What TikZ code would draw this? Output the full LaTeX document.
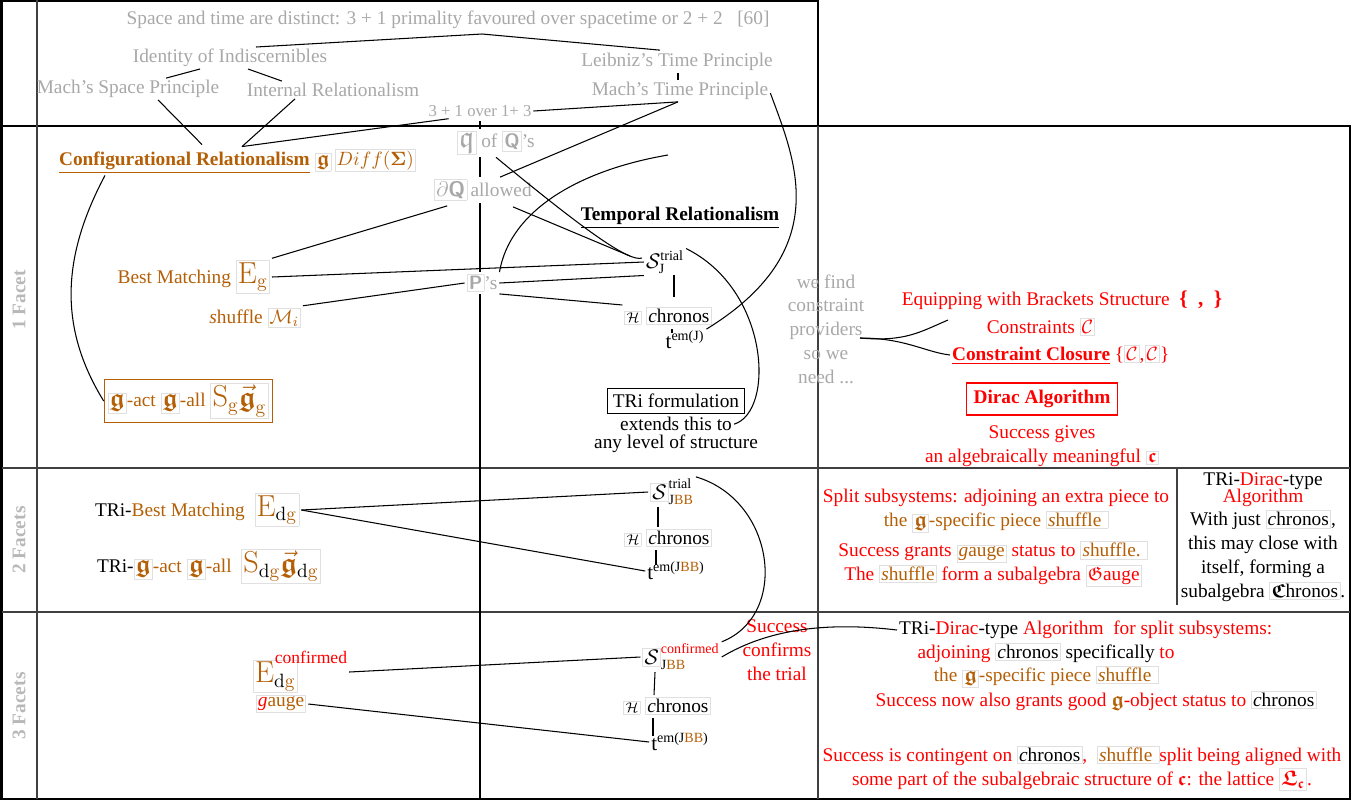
\documentclass[tikz,border=0pt]{standalone}
\usepackage{amsmath}
\usepackage{amssymb}
\usepackage[no-math]{fontspec}
\setmainfont{Liberation Serif}
\usepackage{tikz}
\usetikzlibrary{positioning,calc}
\definecolor{brn}{RGB}{180,95,6}
\definecolor{txtgray}{RGB}{168,168,168}
\newcommand{\gbox}[1]{{\setlength{\fboxsep}{0.8pt}\setlength{\fboxrule}{0.4pt}\fcolorbox{black!12}{white}{#1}}}
\newcommand{\scl}[1]{{\itshape #1}}
\newcommand{\fg}{$\boldsymbol{\mathfrak{g}}$}
\newcommand{\bigE}{\fontsize{16}{18}\selectfont}

\begin{document}
\begin{tikzpicture}[x=0.02cm, y=-0.02cm, font=\fontsize{11}{13.5}\selectfont,
  every node/.style={inner sep=1pt},
  gr/.style={text=txtgray},
  br/.style={text=brn},
  rd/.style={text=red},
  facet/.style={rotate=90, text=black!28, font=\fontsize{11}{13}\selectfont\bfseries},
  frame/.style={line width=0.8pt, black!75},
  outer/.style={line width=1.2pt},
  link/.style={line width=0.6pt}]
  \useasboundingbox (0,0) rectangle (1371,802);
  % table lines
  \draw[outer] (0,1) -- (818,1) -- (818,126);
  \draw[outer] (1.5,0) -- (1.5,799) -- (1350,799) -- (1350,126) -- (1.5,126);
  \draw[frame] (37,0) -- (37,799);
  \draw[frame] (1.5,468) -- (1350,468);
  \draw[frame] (1.5,612) -- (1350,612);
  \draw[frame] (818,126) -- (818,799);
  \draw[frame] (1177,468) -- (1177,605);
  \coordinate (axistop) at (480,121);
  \coordinate (axisend) at (480,799);
  \draw[link] (axistop) -- (axisend);

  \node[facet] (f1) at (19,300) {1 Facet};
  \node[facet] (f2) at (19,540) {2 Facets};
  \node[facet] (f3) at (19,706) {3 Facets};

  % top: principles
  \node[gr] (distinct) at (448,20) {Space and time are distinct: 3 + 1 primality favoured over spacetime or 2 + 2 \ \ [60]};
  \node[gr] (identity) at (230,58) {Identity of Indiscernibles};
  \node[gr] (leibniz) at (677,62) {Leibniz's Time Principle};
  \node[gr] (machs) at (128,89) {Mach's Space Principle};
  \node[gr] (internal) at (333,90) {Internal Relationalism};
  \node[gr] (macht) at (680,91) {Mach's Time Principle};
  \node[gr,font=\fontsize{9.5}{11}\selectfont] (threeone) at (480,111) {3 + 1 over 1+ 3};

  % 1 facet
  \node[br,anchor=west] (config) at (57,161) {\textbf{\underline{Configurational Relationalism}} \gbox{\large\fg}\,\gbox{$Diff(\boldsymbol{\Sigma})$}};
  \node[gr,fill=white] (qofq) at (496,143) {\gbox{\LARGE$\mathfrak{q}$} of \gbox{\textsf{\textbf{Q}}}'s};
  \node[gr,fill=white] (dq) at (483,190) {\gbox{\large$\partial$\textsf{\textbf{Q}}}\,allowed};
  \node[gr,fill=white] (ps) at (482,283) {\gbox{\textsf{\textbf{P}}}'s};
  \node (temprel) at (680,218) {\textbf{\underline{Temporal Relationalism}}};
  \node (sj) at (665,262) {\large$\mathcal{S}_{\text{J}}^{\text{trial}}$};
  \node (chr1) at (668,316) {\gbox{$\scriptstyle\mathcal{H}$}\ \gbox{\scl{c}hronos}};
  \node (tem1) at (685,340) {\large t$^{\text{em(J)}}$};
  \node[br,anchor=east] (bm) at (272,277) {Best Matching \gbox{\bigE$\mathrm{E}_{\mathrm{g}}$}};
  \node[br,anchor=east] (shuf) at (303,318) {\scl{s}huffle\ \gbox{$\mathcal{M}_i$}};
  \node[draw=brn,br,inner sep=2pt] (gact) at (188,401) {\gbox{\Large\fg}-act \gbox{\Large\fg}-all \gbox{\bigE$\mathrm{S}_{\mathrm{g}}\vec{\boldsymbol{\mathfrak{g}}}_{\mathrm{g}}$}};
  \node[draw,inner sep=3pt] (tri) at (676,401) {TRi formulation};
  \node[below=1pt of tri] (ext) {extends this to};
  \node[below=0pt of ext] (anylev) {any level of structure};

  \node[gr,align=center] (wefind) at (826,329) {we find\\constraint\\providers\\so we\\need ...};
  \node[rd] (equip) at (1062,300) {Equipping with Brackets Structure\ \ \textbf{\large\{ \ , \ \}}};
  \node[rd] (constr) at (1041,327) {Constraints \gbox{$\mathcal{C}$}};
  \node[rd,anchor=west] (closure) at (950,355) {\textbf{\underline{Constraint Closure}} \{\gbox{$\mathcal{C}$},\gbox{$\mathcal{C}$}\}};
  \node[rd,draw=red,line width=0.8pt,inner sep=4pt] (dirac) at (1042,399) {\textbf{Dirac Algorithm}};
  \node[rd,align=center] (gives) at (1042,446) {Success gives\\an algebraically meaningful \gbox{$\boldsymbol{\mathfrak{c}}$}};

  % 2 facets
  \node[anchor=west] (tribm) at (93,510) {TRi-\textcolor{brn}{Best Matching}\ \ \gbox{\bigE$\textcolor{brn}{\mathrm{E}}_{\mathrm{d}\textcolor{brn}{\mathrm{g}}}$}};
  \node[anchor=west] (trigact) at (95,566) {TRi-\gbox{\textcolor{brn}{\Large\fg}}\textcolor{brn}{-act} \gbox{\textcolor{brn}{\Large\fg}}\textcolor{brn}{-all}\ \ \gbox{\bigE$\textcolor{brn}{\mathrm{S}}_{\mathrm{d}\textcolor{brn}{\mathrm{g}}}\textcolor{brn}{\vec{\boldsymbol{\mathfrak{g}}}}_{\mathrm{d}\textcolor{brn}{\mathrm{g}}}$}};
  \node (sjbb) at (672,492) {\large$\gbox{$\mathcal{S}$}^{\text{trial}}_{\text{J\textcolor{brn}{BB}}}$};
  \node (chr2) at (668,538) {\gbox{$\scriptstyle\mathcal{H}$}\ \gbox{\scl{c}hronos}};
  \node (tem2) at (676,571) {\large t$^{\text{em(J\textcolor{brn}{BB})}}$};
  \node[rd,align=center] (split) at (996,511) {Split subsystems: adjoining an extra piece to\\\textcolor{brn}{the \gbox{\large\fg}-specific piece \gbox{\scl{s}huffle\ }}};
  \node[rd,align=center] (grants) at (993,564) {Success grants \gbox{\textcolor{brn}{\scl{g}auge}} status to \gbox{\textcolor{brn}{\scl{s}huffle.}\ }\\The \gbox{\textcolor{brn}{\scl{s}huffle}} form a subalgebra \gbox{$\mathfrak{G}$auge}};
  \node[align=center] (tdirac2) at (1263,537) {TRi-\textcolor{red}{Dirac}-type\\[-4pt]\textcolor{red}{Algorithm}\\With just \gbox{\scl{c}hronos},\\this may close with\\itself, forming a\\subalgebra \gbox{$\boldsymbol{\mathfrak{C}}$hronos}.};

  % 3 facets
  \node (econf) at (300,672) {\gbox{\bigE$\textcolor{brn}{\mathrm{E}}_{\mathrm{d}\textcolor{brn}{\mathrm{g}}}$}\hspace{-13pt}\raisebox{11pt}{\fontsize{10}{10}\selectfont\textcolor{red}{confirmed}}};
  \node (gauge3) at (281,704) {\gbox{\textcolor{red}{\scl{g}}\textcolor{brn}{auge}}};
  \node (sconf) at (681,657) {\large$\gbox{$\mathcal{S}$}^{\textcolor{red}{\text{confirmed}}}_{\text{J\textcolor{brn}{BB}}}$};
  \node (chr3) at (667,706) {\gbox{$\scriptstyle\mathcal{H}$}\ \gbox{\scl{c}hronos}};
  \node (tem3) at (680,742) {\large t$^{\text{em(J\textcolor{brn}{BB})}}$};
  \node[rd,align=center] (confirms) at (777,650) {Success\\confirms\\the trial};
  \node[anchor=west] (tdir3a) at (897,630) {TRi-\textcolor{red}{Dirac}-type \textcolor{red}{Algorithm\ \ for split subsystems:}};
  \node (tdir3b) at (1046,653) {\textcolor{red}{adjoining} \gbox{\scl{c}hronos} specifically \textcolor{red}{to}};
  \node[br] (tdir3c) at (1046,677) {the \gbox{\large\fg}-specific piece \gbox{\scl{s}huffle\ }};
  \node[rd] (tdir3d) at (1096,701) {Success now also grants good \textcolor{brn}{\large\fg}-object status to \gbox{\textcolor{black}{\scl{c}hronos}}};
  \node[rd,align=center] (conting) at (1082,768) {Success is contingent on \gbox{\textcolor{black}{\scl{c}hronos}}, \ \gbox{\textcolor{brn}{\scl{s}huffle\ }}split being aligned with\\some part of the subalgebraic structure of $\boldsymbol{\mathfrak{c}}$: the lattice \gbox{\large$\boldsymbol{\mathfrak{L}_{\mathfrak{c}}}$}.};

  % connectors, top
  \coordinate (peak) at (482,34);
  \draw[link] ($(identity.north)+(26,0)$) -- (peak) -- ($(leibniz.north)+(-17,-1)$);
  \draw[link] ($(identity.south)+(-30,0)$) -- ($(machs.north)+(38,0)$);
  \draw[link] ($(identity.south)+(18,0)$) -- ($(internal.north)+(-51,0)$);
  \draw[link] ($(leibniz.south)+(1,0)$) -- ($(macht.north)+(-2,0)$);
  \draw[link] ($(macht.south)+(-2,0)$) -- (threeone.east);
  \draw[link] ($(macht.south)+(-2,0)$) -- ($(dq.north)+(17,0)$);
  \draw[link] ($(threeone.south west)+(22,0)$) -- ($(config.north west)+(185,0)$);
  \draw[link] ($(machs.south)+(30,0)$) -- ($(config.north west)+(145,-2)$);
  \draw[link] ($(internal.south)+(-38,0)$) -- ($(config.north west)+(185,0)$);
  \draw[link] ($(macht.east)+(0,2)$) .. controls (795,160) and (835,250) .. (tem1.north east);

  % connectors, 1 facet
  \coordinate (pfree) at (668,155);
  \draw[link] (ps.north east) .. controls (510,210) and (580,170) .. (pfree);
  \draw[link] (qofq.south) .. controls (590,235) and (630,262) .. ($(sj.west)+(-2,-4)$);
  \draw[link] ($(dq.south)+(30,4)$) -- ($(sj.west)+(-14,-6)$);
  \draw[link] ($(dq.south west)+(15,3)$) -- (bm.north east);
  \draw[link] (bm.east) -- (sj.west);
  \draw[link] (shuf.north east) -- (ps.west);
  \draw[link] (ps.east) -- (sj.south west);
  \draw[link] (ps.south east) -- (chr1.north west);
  \draw[link] ($(sj.south)+(9,0)$) -- ($(chr1.north)+(6,-8)$);
  \draw[link] ($(chr1.south)+(4,2)$) -- ($(tem1.north)+(-13,4)$);
  \draw[link] (sj.north east) .. controls (770,290) and (775,412) .. (ext.east);
  \draw[link] ($(config.south west)+(48,0)$) .. controls (60,260) and (60,330) .. (gact.west);
  \coordinate (fork) at (860,338);
  \coordinate (forkup) at (948,320);
  \draw[link] (fork) .. controls (905,342) and (920,332) .. (forkup);
  \draw[link] (fork) .. controls (905,338) and (925,352) .. (closure.west);

  % connectors, 2 and 3 facets
  \draw[link] (tribm.east) -- (sjbb.west);
  \draw[link] (tribm.east) -- (tem2.west);
  \draw[link] ($(sjbb.south)+(-14,0)$) -- ($(chr2.north)+(-10,0)$);
  \draw[link] ($(chr2.south)+(-12,1)$) -- ($(tem2.north)+(-20,5)$);
  \draw[link] (sjbb.north east) .. controls (775,500) and (790,615) .. (sconf.north east);
  \draw[link] (econf.east) -- (sconf.west);
  \draw[link] (gauge3.east) -- (tem3.west);
  \draw[link] ($(sconf.south)+(-26,0)$) -- ($(chr3.north)+(-13,0)$);
  \draw[link] ($(chr3.south)+(-14,1)$) -- ($(tem3.north)+(-27,5)$);
  \draw[link] (sconf.east) .. controls (770,628) and (830,622) .. (tdir3a.west);
\end{tikzpicture}
\end{document}
